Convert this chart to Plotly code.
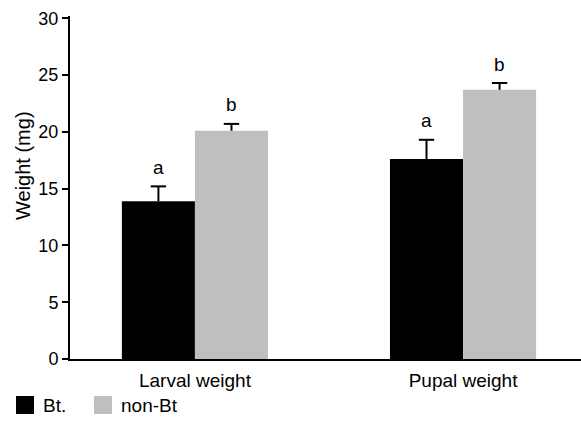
import plotly.graph_objects as go

categories = ["Larval weight", "Pupal weight"]
bt_values = [13.9, 17.6]
bt_err = [1.3, 1.7]
nonbt_values = [20.1, 23.7]
nonbt_err = [0.6, 0.6]
bt_letters = ["a", "a"]
nonbt_letters = ["b", "b"]
y_ticks = [0, 5, 10, 15, 20, 25, 30]
series_names = ["Bt.", "non-Bt"]
series_colors = ["#000000", "#bfbfbf"]
y_title = "Weight (mg)"

FONT = "Liberation Sans, Arial, sans-serif"
W, H = 581, 427
ML, MR, MT, MB = 70, 0, 16, 68
BARGAP = 0.455
bw = (1 - BARGAP) / 2
xpos = list(range(len(categories)))

fig = go.Figure()
for vals, errs, name, col in [(bt_values, bt_err, series_names[0], series_colors[0]),
                              (nonbt_values, nonbt_err, series_names[1], series_colors[1])]:
    fig.add_trace(go.Bar(
        name=name, x=xpos, y=vals,
        marker=dict(color=col, line=dict(width=0)),
        error_y=dict(type="data", array=errs, arrayminus=[0] * len(errs),
                     symmetric=False, color="#000000", thickness=2, width=0),
    ))

# error-bar caps (top only)
cap_x, cap_y = [], []
for i in xpos:
    cap_x += [i - bw / 2, i + bw / 2]
    cap_y += [bt_values[i] + bt_err[i], nonbt_values[i] + nonbt_err[i]]
fig.add_trace(go.Scatter(x=cap_x, y=cap_y, mode="markers", hoverinfo="skip",
                         marker=dict(symbol="line-ew", size=11, color="#000",
                                     line=dict(width=2, color="#000"))))

for i in xpos:
    fig.add_annotation(x=i - bw / 2, y=bt_values[i] + bt_err[i], text=bt_letters[i],
                       showarrow=False, yshift=19, font=dict(size=19, color="#000"))
    fig.add_annotation(x=i + bw / 2, y=nonbt_values[i] + nonbt_err[i], text=nonbt_letters[i],
                       showarrow=False, yshift=19, font=dict(size=19, color="#000"))

pw, ph = W - ML - MR, H - MT - MB
def px_x(x):
    return (x - ML) / pw
def px_y(y):
    return (H - MB - y) / ph

# y-axis title
fig.add_annotation(xref="paper", yref="paper", x=px_x(23), y=px_y(166),
                   xanchor="center", yanchor="middle", textangle=-90, text=y_title,
                   showarrow=False, font=dict(size=20, color="#000"))

# custom legend below the plot
leg_y = 405
leg_items = [(16, 41), (94, 119)]
for (sx, tx), name, col in zip(leg_items, series_names, series_colors):
    fig.add_shape(type="rect", xref="paper", yref="paper",
                  x0=px_x(sx), x1=px_x(sx + 18), y0=px_y(leg_y - 9), y1=px_y(leg_y + 9),
                  fillcolor=col, line=dict(width=0), layer="above")
    fig.add_annotation(xref="paper", yref="paper", x=px_x(tx), y=px_y(leg_y),
                       xanchor="left", yanchor="middle", text=name, showarrow=False,
                       font=dict(size=19, color="#000"))

fig.update_layout(
    width=W, height=H,
    margin=dict(l=ML, r=MR, t=MT, b=MB),
    paper_bgcolor="white", plot_bgcolor="white",
    barmode="group", bargap=BARGAP, bargroupgap=0,
    font=dict(family=FONT, size=18, color="#000"),
    showlegend=False,
    xaxis=dict(range=[-0.466, 1.44], tickvals=xpos, ticktext=categories,
               showline=True, linecolor="#000", linewidth=2, ticklabelstandoff=3,
               ticks="", showgrid=False, zeroline=False, tickfont=dict(size=19)),
    yaxis=dict(range=[0, 30.2], tickvals=y_ticks, showline=True, linecolor="#000",
               linewidth=2, ticks="outside", ticklen=6, tickwidth=2, tickcolor="#000",
               showgrid=False, zeroline=False, tickfont=dict(size=18)),
)

fig.write_html("out.html")
